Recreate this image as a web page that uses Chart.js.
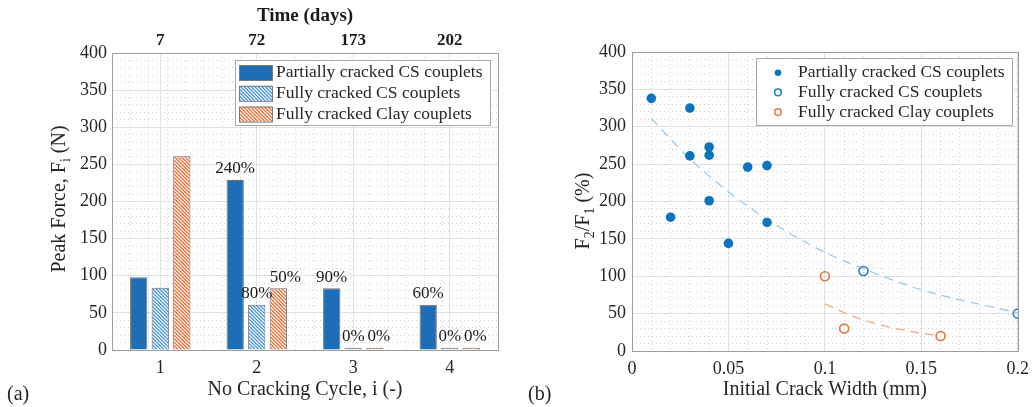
<!DOCTYPE html>
<html>
<head>
<meta charset="utf-8">
<script src="https://cdn.jsdelivr.net/npm/chart.js@4/dist/chart.umd.min.js"></script>
<style>
  body { margin: 0; background: #fff; }
  #marco { position: relative; width: 1036px; height: 407px; }
  canvas { position: absolute; top: 0; }
</style>
</head>
<body>
<div id="marco">
  <canvas id="barras" width="518" height="407" style="left:0"></canvas>
  <canvas id="dispersion" width="518" height="407" style="left:518px"></canvas>
</div>
<script>
// (a) fuerza pico por ciclo
const ciclos = ['1', '2', '3', '4'];
const dias = ['7', '72', '173', '202'];
const fuerzaParcialCS = [98, 229, 83, 61];
const fuerzaTotalCS = [84, 61, 3, 3];
const fuerzaArcilla = [261, 83, 3, 3];
const pctParcialCS = ['', '240%', '90%', '60%'];
const pctTotalCS = ['', '80%', '0%', '0%'];
const pctArcilla = ['', '50%', '0%', '0%'];
const ticksFuerza = [0, 50, 100, 150, 200, 250, 300, 350, 400];

// (b) F2/F1 contra ancho de fisura
const anchoParcialCS = [0.01, 0.03, 0.03, 0.04, 0.04, 0.04, 0.02, 0.06, 0.07, 0.07, 0.05];
const razonParcialCS = [338, 325, 261, 273, 262, 201, 179, 246, 248, 172, 144];
const anchoTotalCS = [0.12, 0.2];
const razonTotalCS = [107, 50];
const anchoArcilla = [0.1, 0.11, 0.16];
const razonArcilla = [100, 30, 20];
const ajusteCSx = [0.01, 0.03, 0.05, 0.07, 0.1, 0.12, 0.15, 0.2];
const ajusteCSy = [311, 257, 213, 176, 132, 110, 82, 51];
const ajusteArcillaX = [0.1, 0.115, 0.13, 0.145, 0.16];
const ajusteArcillaY = [63, 46, 34, 26, 20];

(function(){
  const FUENTE = "'Liberation Serif', 'Times New Roman', serif";
  const TEXTO = '#262626';
  const GRILLA = '#e4e4e4';
  const GRILLA_MENOR = '#d2d2d2';
  const CAJA = '#9d9d9d';

  const AZUL = '#1c6fb7';
  const AZUL_RAYA = '#4a97dc';
  const NARANJA = '#e8703a';

  Chart.defaults.font.family = FUENTE;
  Chart.defaults.color = TEXTO;

  const puntos = (xs, ys) => xs.map((x, i) => ({ x: x, y: ys[i] }));

  const crearRayado = (ctx, color) => {
    const c = document.createElement('canvas');
    c.width = 7; c.height = 7;
    const g = c.getContext('2d');
    g.fillStyle = '#fff';
    g.fillRect(0, 0, 7, 7);
    g.strokeStyle = color;
    g.lineWidth = 1.3;
    g.beginPath();
    [-7, -3.5, 0, 3.5, 7].forEach((k) => { g.moveTo(k - 1, -1); g.lineTo(k + 8, 8); });
    g.stroke();
    return ctx.createPattern(c, 'repeat');
  };

  // grilla menor punteada con un eje oculto
  const ejeMenor = (pos, min, max, paso) => ({
    type: 'linear', position: pos, min: min, max: max,
    ticks: { display: false, stepSize: paso },
    border: { display: false, dash: [1, 3] },
    grid: { color: GRILLA_MENOR, drawTicks: false },
    afterFit: (s) => { if (pos === 'left') s.width = 0; else s.height = 0; }
  });

  const caja = {
    id: 'caja',
    afterDatasetsDraw(chart) {
      const { ctx, chartArea: a } = chart;
      ctx.save();
      ctx.strokeStyle = CAJA;
      ctx.lineWidth = 1;
      ctx.strokeRect(Math.round(a.left) + 0.5, Math.round(a.top) + 0.5, Math.round(a.right - a.left), Math.round(a.bottom - a.top));
      ctx.restore();
    }
  };

  // titulo vertical con subindices: partes [texto, esSubindice]
  const tituloVertical = (ctx, partes, cx, cy, tam) => {
    ctx.save();
    ctx.translate(cx, cy);
    ctx.rotate(-Math.PI / 2);
    ctx.fillStyle = TEXTO;
    ctx.textBaseline = 'middle';
    const fNormal = tam + 'px ' + FUENTE;
    const fSub = Math.round(tam * 0.7) + 'px ' + FUENTE;
    let total = 0;
    partes.forEach((p) => { ctx.font = p[1] ? fSub : fNormal; total += ctx.measureText(p[0]).width; });
    let x = -total / 2;
    partes.forEach((p) => {
      ctx.font = p[1] ? fSub : fNormal;
      ctx.fillText(p[0], x, p[1] ? tam * 0.3 : 0);
      x += ctx.measureText(p[0]).width;
    });
    ctx.restore();
  };

  const iniciarBarras = () => {
    const lienzo = document.getElementById('barras');
    const ctx2d = lienzo.getContext('2d');

    const etiquetas = {
      id: 'etiquetas',
      afterDatasetsDraw(chart) {
        const ctx = chart.ctx;
        ctx.save();
        ctx.fillStyle = '#1a1a1a';
        ctx.textAlign = 'center';
        ctx.textBaseline = 'middle';
        ctx.font = '17px ' + FUENTE;
        chart.data.datasets.forEach((ds, i) => {
          chart.getDatasetMeta(i).data.forEach((barra, j) => {
            const txt = ds.porcentajes[j];
            if (!txt) return;
            const dx = (i === 2 && j === 1) ? 7 : (i === 2 ? 4 : 0);
            ctx.fillText(txt, barra.x + dx, barra.y - 11);
          });
        });
        ctx.restore();
      }
    };

    const leyenda = {
      id: 'leyendaBarras',
      afterDraw(chart) {
        const ctx = chart.ctx;
        ctx.save();
        ctx.fillStyle = '#fff';
        ctx.fillRect(235, 60, 255, 65);
        ctx.strokeStyle = '#a8a8a8';
        ctx.lineWidth = 1;
        ctx.strokeRect(235.5, 60.5, 255, 65);
        ctx.font = '17.5px ' + FUENTE;
        ctx.textBaseline = 'middle';
        chart.data.datasets.forEach((ds, i) => {
          const yc = 72.5 + i * 20.8;
          ctx.fillStyle = ds.backgroundColor;
          ctx.fillRect(239, yc - 7.5, 33, 15);
          ctx.strokeStyle = '#7a7a7a';
          ctx.strokeRect(239.5, yc - 7, 33, 15);
          ctx.fillStyle = TEXTO;
          ctx.fillText(ds.label, 276, yc);
        });
        ctx.restore();
      }
    };

    const textos = {
      id: 'textosBarras',
      afterDraw(chart) {
        const ctx = chart.ctx;
        tituloVertical(ctx, [['Peak Force, F', false], ['i', true], [' (N)', false]], 60, 199, 20);
        ctx.save();
        ctx.fillStyle = TEXTO;
        ctx.font = '20px ' + FUENTE;
        ctx.textBaseline = 'middle';
        ctx.fillText('(a)', 7, 395);
        ctx.restore();
      }
    };

    const comunes = { borderColor: '#707070', borderWidth: 1, categoryPercentage: 0.67, barPercentage: 0.8, xAxisID: 'x', yAxisID: 'y' };

    new Chart(lienzo, {
      type: 'bar',
      data: {
        labels: ciclos,
        datasets: [
          Object.assign({ label: 'Partially cracked CS couplets', data: fuerzaParcialCS, backgroundColor: AZUL, porcentajes: pctParcialCS }, comunes),
          Object.assign({ label: 'Fully cracked CS couplets', data: fuerzaTotalCS, backgroundColor: crearRayado(ctx2d, AZUL_RAYA), porcentajes: pctTotalCS }, comunes),
          Object.assign({ label: 'Fully cracked Clay couplets', data: fuerzaArcilla, backgroundColor: crearRayado(ctx2d, NARANJA), porcentajes: pctArcilla }, comunes)
        ]
      },
      options: {
        responsive: false,
        animation: false,
        layout: { padding: { left: 0, right: 20, top: 0, bottom: 0 } },
        plugins: { legend: { display: false }, tooltip: { enabled: false } },
        scales: {
          x: {
            type: 'category', position: 'bottom', offset: true,
            grid: { color: GRILLA, offset: false, drawTicks: false },
            border: { display: false },
            ticks: { font: { size: 18 }, color: TEXTO, padding: 7 },
            title: { display: true, text: 'No Cracking Cycle, i (-)', font: { size: 20 }, color: TEXTO, padding: { top: 0, bottom: 5 } },
            afterFit: (s) => { s.height = 57; }
          },
          xMenor: ejeMenor('bottom', 0.5, 4.5, 0.2),
          xTop: {
            type: 'category', position: 'top', labels: dias, offset: true,
            grid: { display: false, drawTicks: false },
            border: { display: false },
            ticks: { font: { size: 17, weight: 'bold' }, color: '#1a1a1a', padding: 2 },
            title: { display: true, text: 'Time (days)', font: { size: 19, weight: 'bold' }, color: '#1a1a1a', padding: { top: 5, bottom: 0 } },
            afterFit: (s) => { s.height = 53; }
          },
          y: {
            type: 'linear', position: 'left', min: 0, max: 400,
            afterBuildTicks: (s) => { s.ticks = ticksFuerza.map((v) => ({ value: v })); },
            grid: { color: GRILLA, drawTicks: false },
            border: { display: false },
            ticks: { font: { size: 18 }, color: TEXTO, padding: 5 },
            afterFit: (s) => { s.width = 112; }
          },
          yMenor: ejeMenor('left', 0, 400, 10)
        }
      },
      plugins: [caja, etiquetas, leyenda, textos]
    });
  };

  const iniciarDispersion = () => {
    const lienzo = document.getElementById('dispersion');

    const leyenda = {
      id: 'leyendaDispersion',
      afterDraw(chart) {
        const ctx = chart.ctx;
        ctx.save();
        ctx.fillStyle = '#fff';
        ctx.fillRect(238, 58, 256, 67);
        ctx.strokeStyle = '#a8a8a8';
        ctx.lineWidth = 1;
        ctx.strokeRect(238.5, 58.5, 256, 67);
        ctx.font = '17.5px ' + FUENTE;
        ctx.textBaseline = 'middle';
        chart.data.datasets.slice(0, 3).forEach((ds, i) => {
          const yc = 72.7 + i * 19.7;
          ctx.beginPath();
          ctx.arc(260, yc, 3.3, 0, Math.PI * 2);
          if (ds.relleno) { ctx.fillStyle = ds.backgroundColor; ctx.fill(); }
          else { ctx.strokeStyle = ds.borderColor; ctx.lineWidth = 1.5; ctx.stroke(); }
          ctx.fillStyle = TEXTO;
          ctx.fillText(ds.label, 280, yc);
        });
        ctx.restore();
      }
    };

    const textos = {
      id: 'textosDispersion',
      afterDraw(chart) {
        const ctx = chart.ctx;
        tituloVertical(ctx, [['F', false], ['2', true], ['/F', false], ['1', true], [' (%)', false]], 66, 211, 20);
        ctx.save();
        ctx.fillStyle = TEXTO;
        ctx.font = '20px ' + FUENTE;
        ctx.textBaseline = 'middle';
        ctx.fillText('(b)', 10, 395);
        ctx.restore();
      }
    };

    new Chart(lienzo, {
      type: 'scatter',
      data: {
        datasets: [
          { label: 'Partially cracked CS couplets', data: puntos(anchoParcialCS, razonParcialCS), relleno: true,
            backgroundColor: '#0b74bd', borderColor: '#0b74bd', pointRadius: 4.8, borderWidth: 0 },
          { label: 'Fully cracked CS couplets', data: puntos(anchoTotalCS, razonTotalCS),
            backgroundColor: 'rgba(255,255,255,0)', borderColor: '#1a80c8', pointRadius: 4.5, pointBorderWidth: 1.6 },
          { label: 'Fully cracked Clay couplets', data: puntos(anchoArcilla, razonArcilla),
            backgroundColor: 'rgba(255,255,255,0)', borderColor: '#e2733f', pointRadius: 4.5, pointBorderWidth: 1.6 },
          { label: 'ajuste CS', data: puntos(ajusteCSx, ajusteCSy), showLine: true, pointRadius: 0,
            borderColor: '#9ccbeb', borderWidth: 1.3, borderDash: [9, 6], cubicInterpolationMode: 'monotone' },
          { label: 'ajuste arcilla', data: puntos(ajusteArcillaX, ajusteArcillaY), showLine: true, pointRadius: 0,
            borderColor: '#f2ab8c', borderWidth: 1.3, borderDash: [9, 6], cubicInterpolationMode: 'monotone' }
        ]
      },
      options: {
        responsive: false,
        animation: false,
        layout: { padding: { left: 0, right: 15, top: 52, bottom: 0 } },
        plugins: { legend: { display: false }, tooltip: { enabled: false } },
        scales: {
          x: {
            type: 'linear', position: 'bottom', min: 0, max: 0.2,
            ticks: { stepSize: 0.05, font: { size: 18 }, color: TEXTO, padding: 7,
              callback: (v) => String(Number(v.toFixed(2))) },
            grid: { color: GRILLA, drawTicks: false },
            border: { display: false },
            title: { display: true, text: 'Initial Crack Width (mm)', font: { size: 20 }, color: TEXTO, padding: { top: 0, bottom: 5 } },
            afterFit: (s) => { s.height = 56; }
          },
          xMenor: ejeMenor('bottom', 0, 0.2, 0.01),
          y: {
            type: 'linear', position: 'left', min: 0, max: 400,
            ticks: { stepSize: 50, font: { size: 18 }, color: TEXTO, padding: 6 },
            grid: { color: GRILLA, drawTicks: false },
            border: { display: false },
            afterFit: (s) => { s.width = 114; }
          },
          yMenor: ejeMenor('left', 0, 400, 10)
        }
      },
      plugins: [caja, leyenda, textos]
    });
  };

  const iniciar = () => {
    if (typeof Chart === 'undefined') return;
    iniciarBarras();
    iniciarDispersion();
  };

  if (document.readyState === 'loading') {
    document.addEventListener('DOMContentLoaded', iniciar);
  } else {
    iniciar();
  }
})();
</script>
</body>
</html>
